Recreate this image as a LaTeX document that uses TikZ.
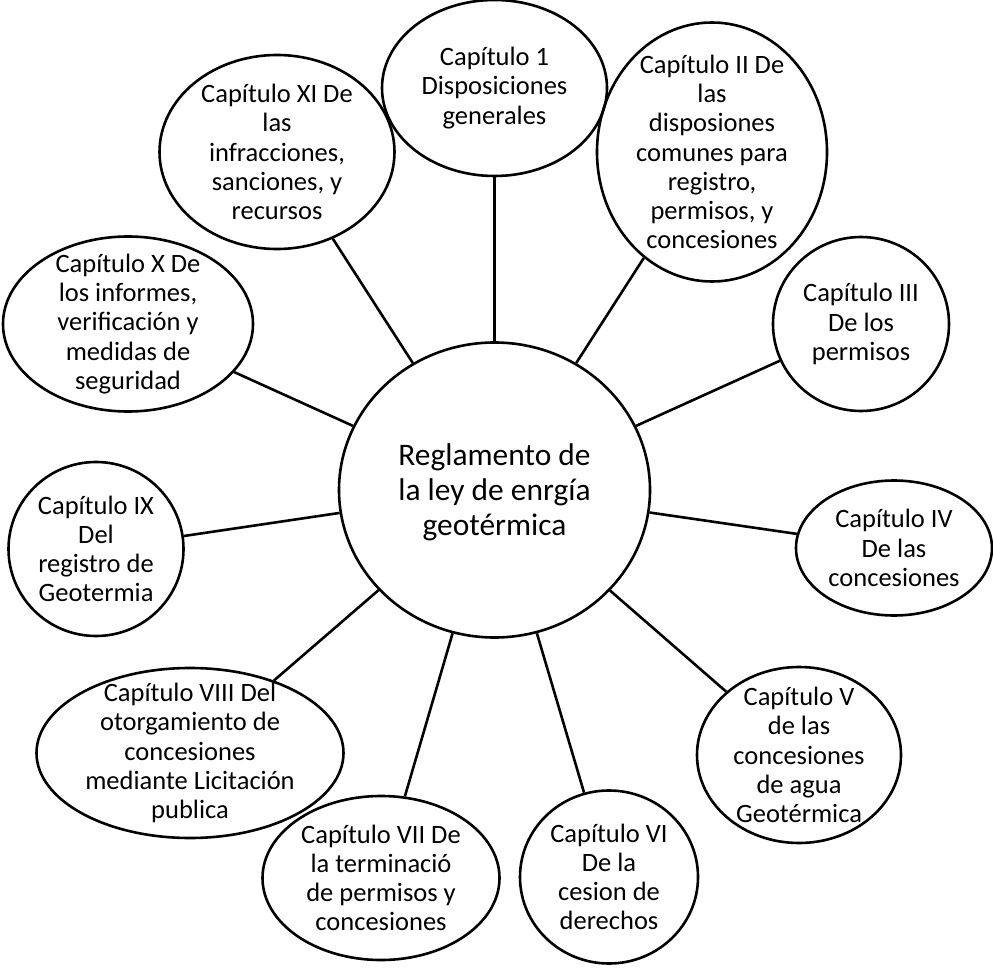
\documentclass[tikz,border=0pt]{standalone}
\usepackage{fontspec}
\setmainfont{Carlito}
\usetikzlibrary{shapes.geometric}
\tikzset{
  chap/.style={draw=black, line width=2.6pt, ellipse, inner sep=0pt},
  chaptext/.style={align=center, inner sep=0pt, font=\fontsize{26.5}{29.2}\selectfont},
  hubtext/.style={align=center, inner sep=0pt, font=\fontsize{31.4}{35}\selectfont},
  link/.style={draw=black, line width=2.6pt}
}
\begin{document}
\begin{tikzpicture}[x=1pt, y=-1pt]
\useasboundingbox (0,0) rectangle (993,968);
% central circle
\node[chap, minimum width=311pt, minimum height=295pt] (hub) at (494.5,490) {};
\node[hubtext] (hubt) at (494.5,492) {Reglamento de\\la ley de enrgía\\geotérmica};
% chapters
\node[chap, minimum width=225pt, minimum height=176pt] (c1) at (494.5,88) {};
\node[chaptext] (t1) at (c1) {Capítulo 1\\Disposiciones\\generales};
\node[chap, minimum width=230pt, minimum height=259pt] (c2) at (712,152) {};
\node[chaptext] (t2) at (c2) {Capítulo II De\\las\\disposiones\\comunes para\\registro,\\permisos, y\\concesiones};
\node[chap, minimum width=176pt, minimum height=174pt] (c3) at (861,324) {};
\node[chaptext] (t3) at (c3) {Capítulo III\\De los\\permisos};
\node[chap, minimum width=196pt, minimum height=135pt] (c4) at (894,548) {};
\node[chaptext] (t4) at (c4) {Capítulo IV\\De las\\concesiones};
\node[chap, minimum width=204pt, minimum height=176pt] (c5) at (799,755) {};
\node[chaptext] (t5) at (c5) {Capítulo V\\de las\\concesiones\\de agua\\Geotérmica};
\node[chap, minimum width=178pt, minimum height=173pt] (c6) at (609,877) {};
\node[chaptext] (t6) at (c6) {Capítulo VI\\De la\\cesion de\\derechos};
\node[chap, minimum width=237pt, minimum height=164pt] (c7) at (381,878) {};
\node[chaptext] (t7) at (c7) {Capítulo VII De\\la terminació\\de permisos y\\concesiones};
\node[chap, minimum width=307pt, minimum height=170pt] (c8) at (190,753) {};
\node[chaptext] (t8) at (c8) {Capítulo VIII Del\\otorgamiento de\\concesiones\\mediante Licitación\\publica};
\node[chap, minimum width=175pt, minimum height=174pt] (c9) at (96,549) {};
\node[chaptext] (t9) at (c9) {Capítulo IX\\Del\\registro de\\Geotermia};
\node[chap, minimum width=250pt, minimum height=175pt] (c10) at (128,324) {};
\node[chaptext] (t10) at (c10) {Capítulo X De\\los informes,\\verificación y\\medidas de\\seguridad};
\node[chap, minimum width=235pt, minimum height=194pt] (c11) at (277,152) {};
\node[chaptext] (t11) at (c11) {Capítulo XI De\\las\\infracciones,\\sanciones, y\\recursos};
% connectors
\foreach \n in {c1,c2,c3,c4,c5,c6,c7,c8,c9,c10,c11}
  \draw[link] (hub) -- (\n);
\end{tikzpicture}
\end{document}
